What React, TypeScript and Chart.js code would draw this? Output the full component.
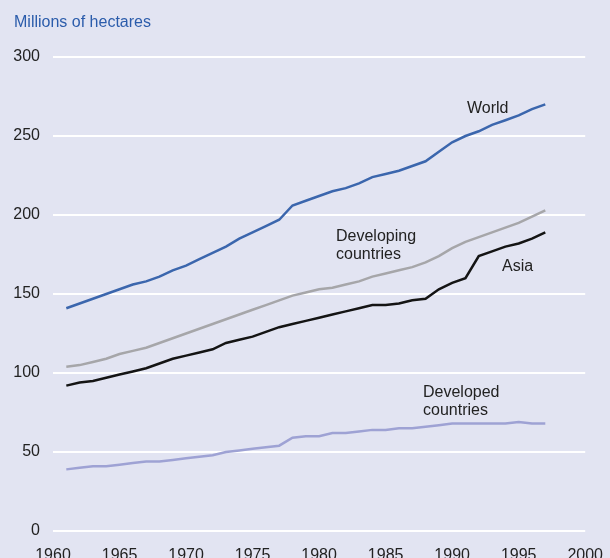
import React, { useEffect, useRef } from "react";
import { Chart, registerables } from "chart.js";

Chart.register(...registerables);

const years = [
  1961, 1962, 1963, 1964, 1965, 1966, 1967, 1968, 1969, 1970,
  1971, 1972, 1973, 1974, 1975, 1976, 1977, 1978, 1979, 1980,
  1981, 1982, 1983, 1984, 1985, 1986, 1987, 1988, 1989, 1990,
  1991, 1992, 1993, 1994, 1995, 1996, 1997,
];

const world = [
  141, 144, 147, 150, 153, 156, 158, 161, 165, 168,
  172, 176, 180, 185, 189, 193, 197, 206, 209, 212,
  215, 217, 220, 224, 226, 228, 231, 234, 240, 246,
  250, 253, 257, 260, 263, 267, 270,
];

const developing = [
  104, 105, 107, 109, 112, 114, 116, 119, 122, 125,
  128, 131, 134, 137, 140, 143, 146, 149, 151, 153,
  154, 156, 158, 161, 163, 165, 167, 170, 174, 179,
  183, 186, 189, 192, 195, 199, 203,
];

const asia = [
  92, 94, 95, 97, 99, 101, 103, 106, 109, 111,
  113, 115, 119, 121, 123, 126, 129, 131, 133, 135,
  137, 139, 141, 143, 143, 144, 146, 147, 153, 157,
  160, 174, 177, 180, 182, 185, 189,
];

const developed = [
  39, 40, 41, 41, 42, 43, 44, 44, 45, 46,
  47, 48, 50, 51, 52, 53, 54, 59, 60, 60,
  62, 62, 63, 64, 64, 65, 65, 66, 67, 68,
  68, 68, 68, 68, 69, 68, 68,
];

const yTicks = [0, 50, 100, 150, 200, 250, 300];
const xTicks = [1960, 1965, 1970, 1975, 1980, 1985, 1990, 1995, 2000];

const titleText = "Millions of hectares";

const FONT = "'Liberation Sans', Arial, sans-serif";

const pts = (vals: number[]) => years.map((y, i) => ({ x: y, y: vals[i] }));

const annotations = {
  id: "annotations",
  afterDraw(chart: any) {
    const ctx = chart.ctx;
    ctx.save();
    ctx.font = `16px ${FONT}`;
    ctx.textBaseline = "alphabetic";
    ctx.textAlign = "left";
    ctx.fillStyle = "#2b5cab";
    ctx.fillText(titleText, 14, 27);
    ctx.fillStyle = "#222222";
    ctx.fillText("World", 467, 113);
    ctx.fillText("Developing", 336, 241);
    ctx.fillText("countries", 336, 258.5);
    ctx.fillText("Asia", 502, 271);
    ctx.fillText("Developed", 423, 397);
    ctx.fillText("countries", 423, 415);
    ctx.restore();
  },
};

export default function App() {
  const ref = useRef<HTMLCanvasElement | null>(null);

  useEffect(() => {
    if (!ref.current) return;
    const chart = new Chart(ref.current, {
      type: "line",
      data: {
        datasets: [
          { label: "World", data: pts(world), borderColor: "#3b66ad" },
          { label: "Developing countries", data: pts(developing), borderColor: "#a6a6a9" },
          { label: "Asia", data: pts(asia), borderColor: "#141414" },
          { label: "Developed countries", data: pts(developed), borderColor: "#9ea2d4" },
        ].map((d) => ({
          ...d,
          borderWidth: 2.5,
          pointRadius: 0,
          tension: 0,
          fill: false,
        })),
      },
      options: {
        animation: false,
        responsive: true,
        maintainAspectRatio: false,
        layout: { padding: { top: 57, right: 15, left: 0, bottom: 0 } },
        plugins: {
          legend: { display: false },
          tooltip: { enabled: false },
          title: { display: false },
        },
        scales: {
          x: {
            type: "linear",
            min: 1960,
            max: 2000,
            afterBuildTicks: (scale: any) => {
              scale.ticks = xTicks.map((v) => ({ value: v }));
            },
            afterFit: (scale: any) => {
              scale.height = 27;
            },
            grid: { display: false },
            border: { display: false },
            ticks: {
              color: "#222222",
              font: { family: FONT, size: 16 },
              padding: 7,
              maxRotation: 0,
              autoSkip: false,
              callback: (v: any) => String(v),
            },
          },
          y: {
            min: 0,
            max: 300,
            afterBuildTicks: (scale: any) => {
              scale.ticks = yTicks.map((v) => ({ value: v }));
            },
            afterFit: (scale: any) => {
              scale.width = 53;
            },
            grid: { color: "#ffffff", lineWidth: 2, drawTicks: false },
            border: { display: false },
            ticks: {
              color: "#222222",
              font: { family: FONT, size: 16 },
              padding: 13,
              callback: (v: any) => String(v),
            },
          },
        },
      },
      plugins: [annotations],
    });
    return () => chart.destroy();
  }, []);

  return (
    <div
      style={{
        position: "absolute",
        left: 0,
        top: 0,
        width: 610,
        height: 558,
        background: "#e2e4f2",
      }}
    >
      <canvas ref={ref} />
    </div>
  );
}
